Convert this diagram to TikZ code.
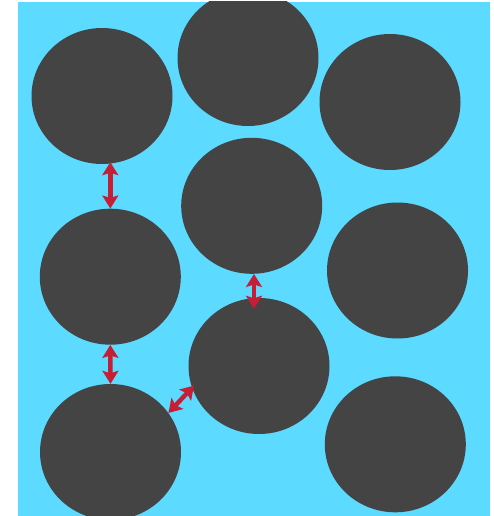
\documentclass[tikz,border=0pt]{standalone}
\usetikzlibrary{arrows.meta,shapes.geometric}
\definecolor{cWater}{RGB}{92,218,255}
\definecolor{cGrain}{RGB}{68,68,68}
\definecolor{cContact}{RGB}{198,30,52}

\begin{document}
\begin{tikzpicture}[
  x=1pt, y=-1pt,
  grain/.style={ellipse, fill=cGrain, draw=none, inner sep=0pt,
    minimum width=141pt, minimum height=136pt},
  contact/.style={{Stealth[length=13pt,width=16pt,inset=2.5pt,fill=cContact]}-{Stealth[length=13pt,width=16pt,inset=2.5pt,fill=cContact]},
    line width=4.5pt, draw=cContact},
]
\useasboundingbox (0,0) rectangle (493,516);
\fill[cWater] (18.3,2) rectangle (490,516);
\begin{scope}
  \clip (18.3,2) rectangle (490,516);
  \node[grain] (g1) at (102,96) {};
  \node[grain] (g2) at (248,58) {};
  \node[grain] (g3) at (390,102) {};
  \node[grain] (g4) at (251.7,205.8) {};
  \node[grain] (g5) at (110.3,276.7) {};
  \node[grain] (g6) at (397.5,270.5) {};
  \node[grain] (g7) at (259,366) {};
  \node[grain] (g8) at (110.5,452) {};
  \node[grain] (g9) at (395.3,444.3) {};
\end{scope}
% contacts between grains
\draw[contact, shorten <=-2pt] (g5.north |- g1.south) -- (g5.north);
\draw[contact] (g5.south) -- (g8.north);
\draw[contact, shorten >=-11pt] (g4.south -| 254,0) -- (g7.north -| 254,0);
\draw[contact, shorten >=-3pt] (g8.34) -- (g7.198);
\end{tikzpicture}
\end{document}
